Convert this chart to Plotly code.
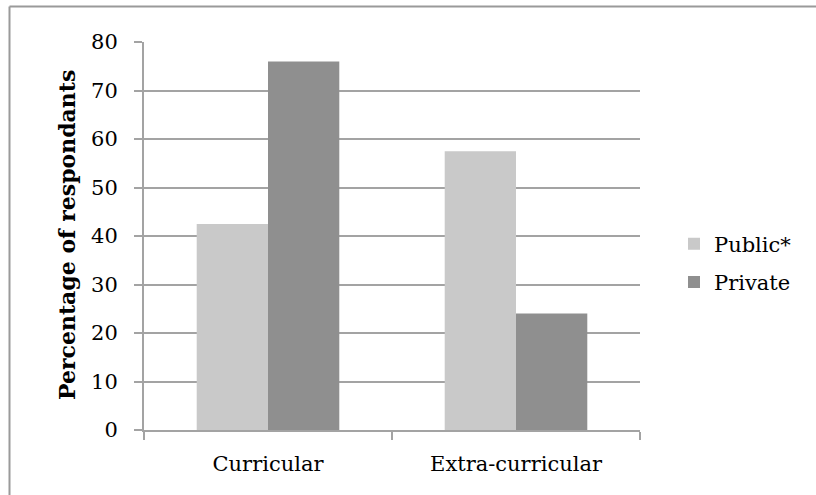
import plotly.graph_objects as go

# Survey results by activity type
categories = ["Curricular", "Extra-curricular"]
public_pct = [42.5, 57.5]
private_pct = [76, 24]
series_names = ["Public*", "Private"]
y_ticks = [0, 10, 20, 30, 40, 50, 60, 70, 80]

W, H = 816, 495
L, R, T, B = 144, 176, 42, 65
pw, ph = W - L - R, H - T - B

FONT = "DejaVu Serif"
GRID = "#a3a3a3"

fig = go.Figure()
fig.add_trace(go.Bar(x=categories, y=public_pct, name=series_names[0],
                     marker=dict(color="#c9c9c9", line=dict(width=0)),
                     legendgroup="a"))
fig.add_trace(go.Bar(x=categories, y=private_pct, name=series_names[1],
                     marker=dict(color="#8f8f8f", line=dict(width=0)),
                     legendgroup="b"))

# frame line along the left and top edges
bx = (9.5 - L) / pw
by = 1 + (T - 6.5) / ph
fig.add_shape(type="line", xref="paper", yref="paper", x0=bx, x1=bx, y0=by, y1=-10,
              line=dict(color="#9a9a9a", width=2))
fig.add_shape(type="line", xref="paper", yref="paper", x0=bx, x1=10, y0=by, y1=by,
              line=dict(color="#9a9a9a", width=2))

fig.add_annotation(text="<b>Percentage of respondants</b>", textangle=-90,
                   xref="paper", yref="paper", x=(67 - L) / pw, y=(H - B - 235) / ph,
                   showarrow=False, xanchor="center", yanchor="middle",
                   font=dict(family=FONT, size=22, color="#000"))

fig.update_layout(
    width=W, height=H,
    margin=dict(l=L, r=R, t=T, b=B),
    paper_bgcolor="white", plot_bgcolor="white",
    barmode="group", bargap=0.425, bargroupgap=0,
    font=dict(family=FONT, size=21, color="#000"),
    showlegend=True,
    legend=dict(x=(674 - L) / pw, y=(H - B - 263) / ph, xanchor="left", yanchor="middle",
                font=dict(family=FONT, size=21), tracegroupgap=8,
                itemwidth=30, bgcolor="rgba(0,0,0,0)"),
    xaxis=dict(showline=True, linecolor=GRID, linewidth=2,
               ticks="outside", tickson="boundaries", ticklen=8, tickcolor=GRID, tickwidth=2,
               ticklabelstandoff=14, showgrid=False),
    yaxis=dict(range=[0, 80], tickvals=y_ticks, showline=True, linecolor=GRID, linewidth=2,
               ticks="outside", ticklen=8, tickcolor=GRID, tickwidth=2,
               ticklabelstandoff=12, showgrid=True, gridcolor=GRID, gridwidth=2,
               zeroline=False),
)

fig.write_html("out.html")
